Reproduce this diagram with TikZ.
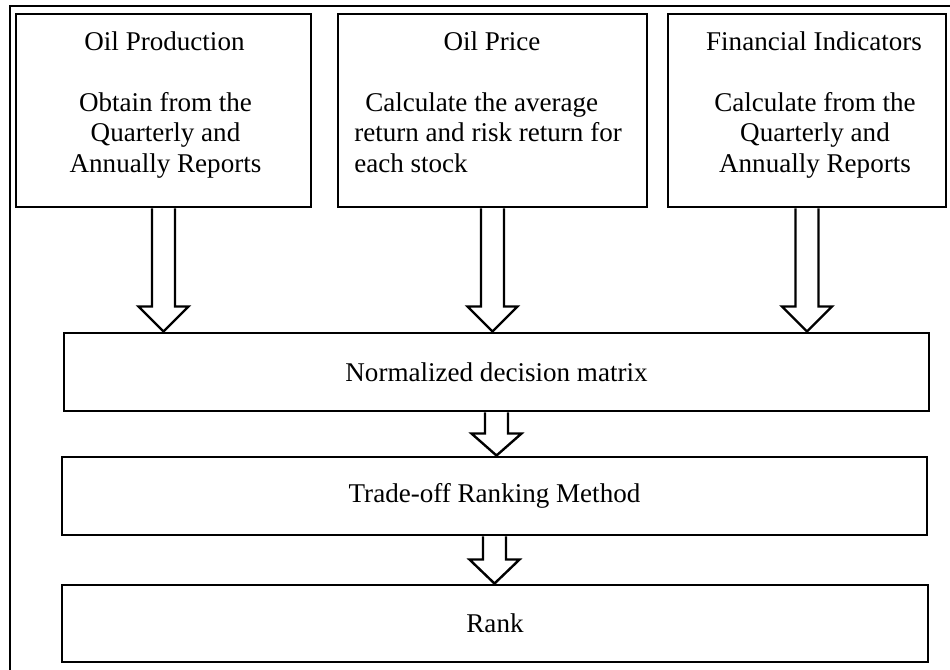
\documentclass[tikz,border=0pt]{standalone}
\usepackage{fontspec}
\setmainfont{Liberation Serif}
\usetikzlibrary{fit,calc}
\tikzset{
  box/.style={draw, line width=2.2pt, inner sep=0pt, fill=white},
  frame/.style={line width=1.3pt},
  fat/.style={line width=1.8pt, line join=miter},
  txt/.style={font=\fontsize{20.3}{22.9}\selectfont, inner sep=0pt},
}
\newcommand\fatarrow[5]{% from, to, half shaft, half head, head length
  \draw[fat] ($(#1.south)+(-#3,0)$) -- ($(#1.south |- #2.north)+(-#3,-#5)$)
    -- ($(#1.south |- #2.north)+(-#4,-#5)$) -- (#1.south |- #2.north)
    -- ($(#1.south |- #2.north)+(#4,-#5)$) -- ($(#1.south |- #2.north)+(#3,-#5)$)
    -- ($(#1.south)+(#3,0)$);}
\begin{document}
\begin{tikzpicture}[x=0.75pt,y=-0.75pt]
\useasboundingbox (0,0) rectangle (950,670);
\fill[white] (0,0) rectangle (950,670);
\draw[frame] (10,672) -- (10,6) -- (952,6);

% top boxes
\node[box, fit={(16,14) (311,207)}] (b1) {};
\node[box, fit={(338,14) (647,207)}] (b2) {};
\node[box, fit={(668,14) (946,207)}] (b3) {};

% lower boxes
\node[box, fit={(64,333) (929,411)}] (b4) {};
\node[txt] (t4) at (b4.center) {Normalized decision matrix};
\node[box, fit={(62,457) (927,535)}] (b5) {};
\node[txt] (t5) at (b5.center) {Trade-off Ranking Method};
\node[box, fit={(62,585) (928,662)}] (b6) {};
\node[txt] (t6) at (b6.center) {Rank};

% titles in top boxes
\node[txt, anchor=base] (h1) at (164.5,51) {Oil Production};
\node[txt, anchor=base] (h2) at (492,51) {Oil Price};
\node[txt, anchor=base] (h3) at (814,51) {Financial Indicators};

% body of box 1
\node[txt, anchor=base] (p1a) at (165.5,111.5) {Obtain from the};
\node[txt, anchor=base] (p1b) at (165.5,142) {Quarterly and};
\node[txt, anchor=base] (p1c) at (165.5,172.5) {Annually Reports};
% body of box 2
\node[txt, anchor=base west] (p2a) at (365,111.5) {Calculate the average};
\node[txt, anchor=base west] (p2b) at (354,142) {return and risk return for};
\node[txt, anchor=base west] (p2c) at (354,172.5) {each stock};
% body of box 3
\node[txt, anchor=base] (p3a) at (815,111.5) {Calculate from the};
\node[txt, anchor=base] (p3b) at (815,142) {Quarterly and};
\node[txt, anchor=base] (p3c) at (815,172.5) {Annually Reports};

% block arrows
\fatarrow{b1}{b4}{11.5}{25}{25}
\fatarrow{b2}{b4}{11.5}{25}{25}
\fatarrow{b3}{b4}{11.5}{25}{25}
\fatarrow{b4}{b5}{11.5}{25}{22}
\fatarrow{b5}{b6}{11.5}{25}{24}
\end{tikzpicture}
\end{document}
